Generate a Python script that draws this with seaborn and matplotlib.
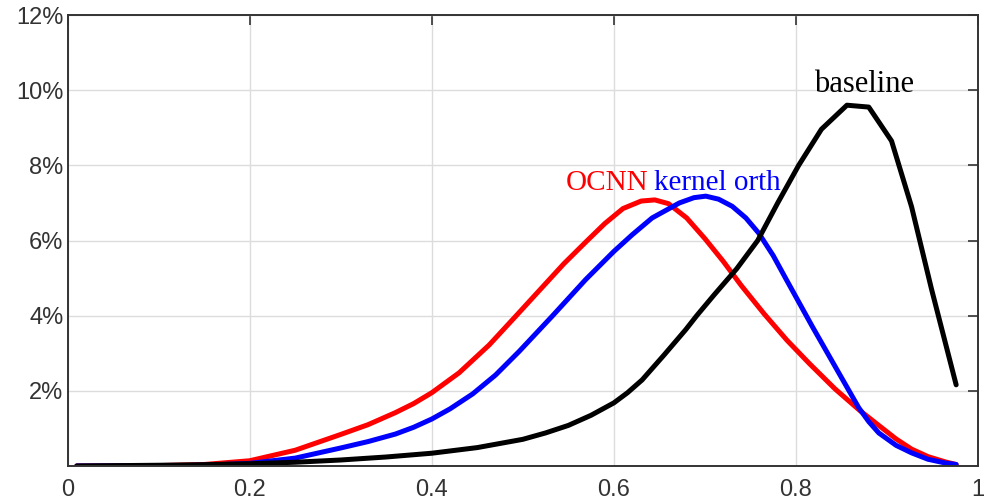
import matplotlib
matplotlib.use("Agg")
import seaborn as sns
import matplotlib.pyplot as plt

# data (x = score, y = share in %)
ocnn_x = [0.01, 0.1, 0.15, 0.2, 0.25, 0.3, 0.33, 0.36, 0.38, 0.4, 0.43, 0.463,
          0.492, 0.52, 0.545, 0.57, 0.59, 0.61, 0.63, 0.645, 0.66, 0.68, 0.70,
          0.72, 0.74, 0.765, 0.79, 0.815, 0.843, 0.87, 0.891, 0.91, 0.927,
          0.945, 0.964, 0.976]
ocnn_y = [0, 0.01, 0.04, 0.14, 0.42, 0.84, 1.1, 1.42, 1.66, 1.95, 2.48, 3.22,
          3.98, 4.72, 5.38, 5.98, 6.45, 6.85, 7.05, 7.08, 6.98, 6.6, 6.05,
          5.45, 4.8, 4.05, 3.35, 2.72, 2.05, 1.48, 1.08, 0.72, 0.45,
          0.25, 0.11, 0.04]

kernel_x = [0.01, 0.1, 0.15, 0.2, 0.25, 0.3, 0.33, 0.36, 0.38, 0.4, 0.42, 0.445,
            0.47, 0.496, 0.532, 0.569, 0.6, 0.62, 0.642, 0.672, 0.688, 0.701,
            0.715, 0.73, 0.745, 0.759, 0.775, 0.789, 0.818, 0.847, 0.869, 0.88,
            0.891, 0.91, 0.927, 0.945, 0.964, 0.976]
kernel_y = [0, 0.005, 0.02, 0.07, 0.21, 0.48, 0.65, 0.85, 1.03, 1.25, 1.52, 1.92,
            2.42, 3.05, 3.98, 4.96, 5.71, 6.15, 6.6, 7.0, 7.14, 7.18,
            7.1, 6.91, 6.6, 6.2, 5.6, 4.98, 3.71, 2.48, 1.55, 1.18,
            0.88, 0.55, 0.35, 0.18, 0.08, 0.04]

base_x = [0.01, 0.1, 0.15, 0.2, 0.25, 0.3, 0.35, 0.4, 0.45, 0.5, 0.525, 0.55,
          0.575, 0.6, 0.615, 0.631, 0.655, 0.679, 0.691, 0.71, 0.735, 0.758,
          0.78, 0.803, 0.828, 0.856, 0.880, 0.905, 0.927, 0.949, 0.976]
base_y = [0, 0.02, 0.035, 0.06, 0.1, 0.16, 0.24, 0.34, 0.49, 0.71, 0.88, 1.08,
          1.35, 1.68, 1.95, 2.29, 2.95, 3.63, 4.0, 4.55, 5.25, 6.0,
          7.0, 8.0, 8.96, 9.6, 9.55, 8.65, 6.9, 4.7, 2.16]

x_ticks = [0, 0.2, 0.4, 0.6, 0.8, 1]
x_labels = ["0", "0.2", "0.4", "0.6", "0.8", "1"]
y_ticks = [2, 4, 6, 8, 10, 12]
y_labels = ["2%", "4%", "6%", "8%", "10%", "12%"]

sns.set_style("white")
plt.rcParams['font.family'] = ['Liberation Sans', 'DejaVu Sans']

fig = plt.figure(figsize=(9.85, 5), dpi=100)
ax = fig.add_axes([0.0687, 0.068, 0.9242, 0.902])

sns.lineplot(x=ocnn_x, y=ocnn_y, color="red", linewidth=3.6, sort=False, ax=ax)
sns.lineplot(x=kernel_x, y=kernel_y, color="blue", linewidth=3.6, sort=False, ax=ax)
sns.lineplot(x=base_x, y=base_y, color="black", linewidth=3.6, sort=False, ax=ax)

ax.set_xlim(0, 1)
ax.set_ylim(0, 12)
ax.set_xticks(x_ticks)
ax.set_xticklabels(x_labels)
ax.set_yticks(y_ticks)
ax.set_yticklabels(y_labels)
ax.grid(True, color="#dcdcdc", linewidth=1, linestyle="-")
ax.set_axisbelow(True)

ax.tick_params(direction="in", length=7, width=1.2, colors="#333333",
               top=True, right=True, labelsize=17)
ax.tick_params(axis="x", pad=9)
ax.tick_params(axis="y", pad=3)
for s in ax.spines.values():
    s.set_color("#333333")
    s.set_linewidth(1.4)

serif = ['Liberation Serif', 'DejaVu Serif']
ax.text(0.5466, 7.34, "OCNN", color="red", fontsize=21, family=serif,
        ha="left", va="baseline")
ax.text(0.6442, 7.34, "kernel orth", color="blue", fontsize=21, family=serif,
        ha="left", va="baseline")
ax.text(0.8197, 9.95, "baseline", color="black", fontsize=22, family=serif,
        ha="left", va="baseline")

ax.set_xlabel("")
ax.set_ylabel("")
fig.savefig("out.png", dpi=100)
